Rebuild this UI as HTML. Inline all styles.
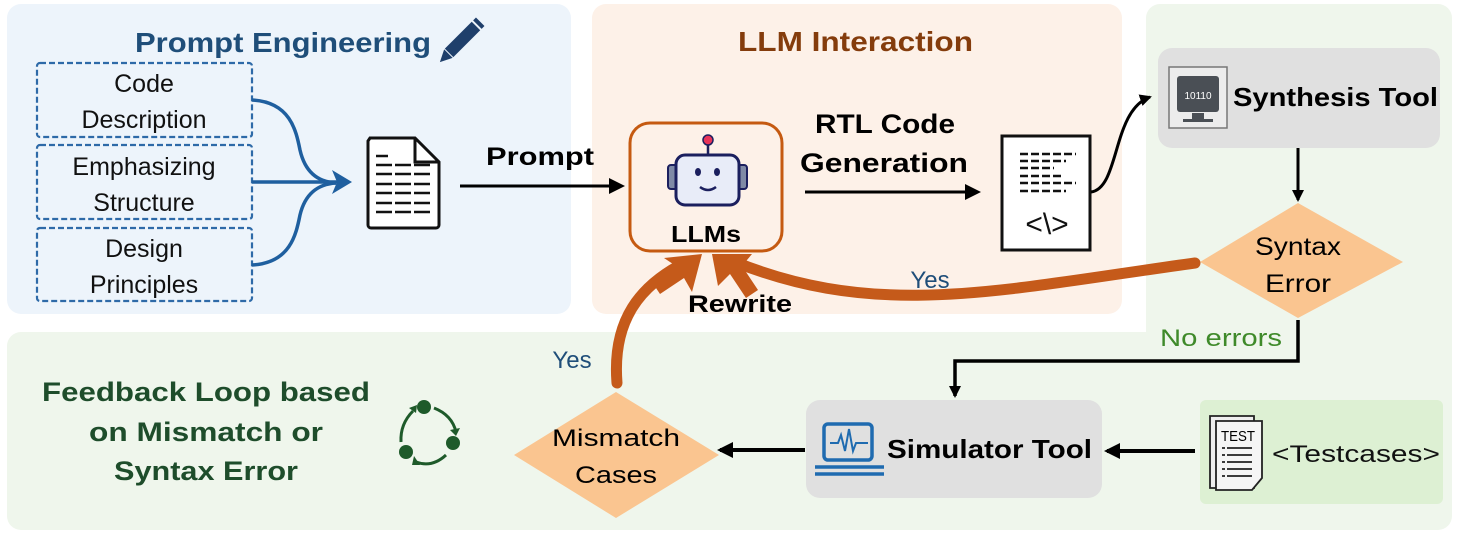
<!DOCTYPE html>
<html><head><meta charset="utf-8"><style>
html,body{margin:0;padding:0;background:#fff;}
svg{display:block;}
text{font-family:"Liberation Sans",sans-serif;}
</style></head><body>
<svg width="1461" height="533" viewBox="0 0 1461 533" xmlns="http://www.w3.org/2000/svg">
<defs>
<marker id="ab" markerWidth="12" markerHeight="12" refX="10" refY="6" orient="auto" markerUnits="userSpaceOnUse"><path d="M0,0 L12,6 L0,12 z" fill="#000"/></marker>
<marker id="abig" markerWidth="16" markerHeight="16" refX="13" refY="8" orient="auto" markerUnits="userSpaceOnUse"><path d="M0,0 L16,8 L0,16 z" fill="#000"/></marker>
<marker id="abl" markerWidth="20" markerHeight="24" refX="16" refY="12" orient="auto" markerUnits="userSpaceOnUse"><path d="M0,0 L20,12 L0,24 L5,12 z" fill="#1f5f9f"/></marker>
</defs>
<!-- panels -->
<rect x="7" y="4" width="564" height="310" rx="14" fill="#edf4fb"/>
<rect x="592" y="4" width="530" height="310" rx="14" fill="#fdf1e8"/>
<path d="M1160,4 H1438 a14,14 0 0 1 14,14 V516 a14,14 0 0 1 -14,14 H21 a14,14 0 0 1 -14,-14 V346 a14,14 0 0 1 14,-14 H1146 V18 a14,14 0 0 1 14,-14 z" fill="#eff6ec"/>

<!-- Prompt Engineering -->
<text x="135" y="52" font-size="28" font-weight="bold" fill="#1f4e79" textLength="296" lengthAdjust="spacingAndGlyphs">Prompt Engineering</text>
<g transform="translate(459,43) rotate(45)"><rect x="-6" y="-24" width="12" height="38" fill="#1f3f6b"/><rect x="-6" y="-30" width="12" height="4" fill="#1f3f6b"/><path d="M-6,15 L6,15 L0,27 z" fill="#1f3f6b"/></g>
<g fill="none" stroke="#2e6aa8" stroke-width="2.2" stroke-dasharray="6,3">
<rect x="37" y="63" width="215" height="74" rx="3"/>
<rect x="37" y="145" width="215" height="74" rx="3"/>
<rect x="37" y="228" width="215" height="73" rx="3"/>
</g>
<g font-size="25" fill="#111" text-anchor="middle">
<text x="144" y="92">Code</text><text x="144" y="128">Description</text>
<text x="144" y="175">Emphasizing</text><text x="144" y="211">Structure</text>
<text x="144" y="257">Design</text><text x="144" y="293">Principles</text>
</g>
<g fill="none" stroke="#1f5f9f" stroke-width="3.5">
<path d="M252,100 C290,102 296,130 300,150 C305,172 318,182 336,183"/>
<path d="M252,265 C290,263 296,235 300,215 C305,194 318,184 336,183"/>
<path d="M252,182 H348" marker-end="url(#abl)"/>
</g>
<!-- doc -->
<g stroke="#111" fill="none" stroke-width="3">
<path d="M370,138 H415 L439,162 V225 a3,3 0 0 1 -3,3 H371 a3,3 0 0 1 -3,-3 V141 z" fill="#fff"/>
<path d="M415,138 V162 H439"/>
<path d="M376,156 h12" stroke-width="2.5"/>
<path d="M376,165 h56 M376,174 h56 M376,184 h56 M376,193 h56 M376,203 h56 M376,212 h56" stroke-width="2.5" stroke-dasharray="16,3"/>
</g>
<!-- Prompt arrow -->
<text x="486" y="165" font-size="25" font-weight="bold" textLength="108" lengthAdjust="spacingAndGlyphs">Prompt</text>
<line x1="460" y1="186" x2="622" y2="186" stroke="#000" stroke-width="3" marker-end="url(#abig)"/>

<!-- LLM Interaction -->
<text x="738" y="51" font-size="28" font-weight="bold" fill="#843c0c" textLength="235" lengthAdjust="spacingAndGlyphs">LLM Interaction</text>
<rect x="630" y="123" width="152" height="128" rx="20" fill="#fdf1e8" stroke="#c55a11" stroke-width="3"/>
<!-- robot -->
<g>
<line x1="708" y1="143" x2="708" y2="158" stroke="#1b1f5e" stroke-width="2.5"/>
<circle cx="708" cy="140" r="5" fill="#e8345a" stroke="#1b1f5e" stroke-width="1.5"/>
<rect x="668" y="165" width="10" height="24" rx="3" fill="#7f8aa6" stroke="#1b1f5e" stroke-width="2"/>
<rect x="737" y="165" width="10" height="24" rx="3" fill="#7f8aa6" stroke="#1b1f5e" stroke-width="2"/>
<rect x="676" y="155" width="63" height="50" rx="9" fill="#e8ecf8" stroke="#1b1f5e" stroke-width="3"/>
<ellipse cx="698" cy="172" rx="3" ry="4" fill="#1b1f5e"/><ellipse cx="717" cy="172" rx="3" ry="4" fill="#1b1f5e"/>
<path d="M700,187 q8,6 16,0" stroke="#1b1f5e" stroke-width="2.5" fill="none"/>
</g>
<text x="706" y="242" font-size="23" font-weight="bold" text-anchor="middle" textLength="70" lengthAdjust="spacingAndGlyphs">LLMs</text>
<text x="815" y="133" font-size="27" font-weight="bold" textLength="140" lengthAdjust="spacingAndGlyphs">RTL Code</text>
<text x="800" y="172" font-size="27" font-weight="bold" textLength="168" lengthAdjust="spacingAndGlyphs">Generation</text>
<line x1="805" y1="192" x2="978" y2="192" stroke="#000" stroke-width="3" marker-end="url(#abig)"/>
<!-- code doc -->
<rect x="1002" y="136" width="88" height="114" fill="#fff" stroke="#111" stroke-width="3"/>
<g stroke="#111" stroke-width="2.5" stroke-dasharray="8,3">
<path d="M1020,154 h56 M1020,161 h46 M1020,168 h34 M1020,176 h44 M1020,183 h56 M1020,191 h46"/>
</g>
<text x="1047" y="234" font-size="30" text-anchor="middle" fill="#111">&lt;\&gt;</text>
<path d="M1091,192 C1120,188 1112,110 1150,97" fill="none" stroke="#000" stroke-width="3" marker-end="url(#ab)"/>

<!-- Synthesis Tool -->
<rect x="1158" y="48" width="282" height="100" rx="14" fill="#e0e0e0"/>
<g>
<rect x="1169" y="67" width="58" height="61" fill="#ececec" stroke="#777" stroke-width="1.5"/>
<rect x="1177" y="76" width="42" height="36" rx="3" fill="#4a4f55"/>
<text x="1198" y="99" font-size="10" fill="#fff" text-anchor="middle">10110</text>
<rect x="1192" y="113" width="12" height="6" fill="#4a4f55"/><rect x="1183" y="119" width="30" height="3" fill="#4a4f55"/>
</g>
<text x="1233" y="106" font-size="26" font-weight="bold" textLength="205" lengthAdjust="spacingAndGlyphs">Synthesis Tool</text>
<line x1="1298" y1="148" x2="1298" y2="200" stroke="#000" stroke-width="3" marker-end="url(#ab)"/>
<path d="M1298,203 L1403,262 L1298,318 L1200,262 z" fill="#fac590"/>
<text x="1298" y="255" font-size="25" text-anchor="middle" textLength="86" lengthAdjust="spacingAndGlyphs">Syntax</text>
<text x="1298" y="292" font-size="25" text-anchor="middle" textLength="66" lengthAdjust="spacingAndGlyphs">Error</text>

<!-- orange feedback arrows -->
<path d="M1195,263 C1000,290 880,320 735,262" fill="none" stroke="#c55a1a" stroke-width="11" stroke-linecap="round"/>
<path d="M712,254 L752,254 L742,266 L758,290 L746,298 L730,274 L718,286 z" fill="#c55a1a"/>
<path d="M617,383 C612,320 640,285 686,262" fill="none" stroke="#c55a1a" stroke-width="11" stroke-linecap="round"/>
<path d="M702,254 L692,292 L684,278 L660,294 L652,282 L676,266 L664,258 z" fill="#c55a1a"/>
<text x="930" y="288" font-size="24" fill="#1f4e79" text-anchor="middle">Yes</text>
<text x="740" y="312" font-size="24" font-weight="bold" text-anchor="middle" textLength="104" lengthAdjust="spacingAndGlyphs">Rewrite</text>
<text x="572" y="368" font-size="24" fill="#1f4e79" text-anchor="middle">Yes</text>

<!-- no errors path -->
<text x="1160" y="346" font-size="24" fill="#3f8a2a" textLength="122" lengthAdjust="spacingAndGlyphs">No errors</text>
<path d="M1298,320 V361 H955 V396" fill="none" stroke="#000" stroke-width="3.5" marker-end="url(#ab)"/>

<!-- Simulator -->
<rect x="806" y="400" width="296" height="98" rx="14" fill="#e0e0e0"/>
<g fill="none" stroke="#1f6bb0" stroke-width="3.5">
<rect x="824" y="424" width="48" height="36" rx="4"/>
<path d="M815,467 H884 M815,474 H884"/>
<path d="M830,443 h8 l3,-8 l4,16 l4,-22 l4,22 l3,-8 h12" stroke-width="2"/>
</g>
<text x="887" y="458" font-size="26" font-weight="bold" textLength="205" lengthAdjust="spacingAndGlyphs">Simulator Tool</text>
<line x1="1195" y1="451" x2="1107" y2="451" stroke="#000" stroke-width="4" marker-end="url(#abig)"/>
<line x1="805" y1="450" x2="720" y2="450" stroke="#000" stroke-width="4" marker-end="url(#abig)"/>
<rect x="1200" y="400" width="243" height="104" rx="6" fill="#ddf0d3"/>
<g fill="none" stroke="#222" stroke-width="1.8">
<path d="M1210,416 H1254 V488 H1210 z" fill="#eee"/>
<path d="M1216,421 H1262 V478 L1252,490 H1216 z" fill="#f5f5f5"/>
<path d="M1222,448 h30 M1222,455 h30 M1222,462 h30 M1222,469 h30 M1222,476 h30" stroke-dasharray="3,2 26,0"/>
</g>
<text x="1238" y="441" font-size="15" text-anchor="middle" textLength="34" lengthAdjust="spacingAndGlyphs">TEST</text>
<text x="1272" y="462" font-size="24" fill="#111" textLength="168" lengthAdjust="spacingAndGlyphs">&lt;Testcases&gt;</text>

<!-- Mismatch diamond -->
<path d="M616,392 L719,455 L616,518 L514,455 z" fill="#fac590"/>
<text x="616" y="446" font-size="24" text-anchor="middle" textLength="128" lengthAdjust="spacingAndGlyphs">Mismatch</text>
<text x="616" y="483" font-size="24" text-anchor="middle" textLength="82" lengthAdjust="spacingAndGlyphs">Cases</text>

<!-- Feedback text -->
<g font-size="27" font-weight="bold" fill="#1e4d2b" text-anchor="middle">
<text x="206" y="401" textLength="328" lengthAdjust="spacingAndGlyphs">Feedback Loop based</text>
<text x="206" y="441" textLength="234" lengthAdjust="spacingAndGlyphs">on Mismatch or</text>
<text x="206" y="480" textLength="184" lengthAdjust="spacingAndGlyphs">Syntax Error</text>
</g>
<g fill="#1e5a2a">
<circle cx="424" cy="407" r="7"/><circle cx="453" cy="443" r="7"/><circle cx="406" cy="452" r="7"/>
<g fill="none" stroke="#1e5a2a" stroke-width="3">
<path d="M434,408 Q452,415 456,432"/><path d="M446,455 Q432,468 416,462"/><path d="M401,442 Q400,424 413,411"/>
</g>
<path d="M450,430 l6,6 l4,-8 z"/><path d="M414,456 l-2,9 l8,0 z"/><path d="M409,408 l8,-3 l-1,8 z"/>
</g>
</svg>
</body></html>
